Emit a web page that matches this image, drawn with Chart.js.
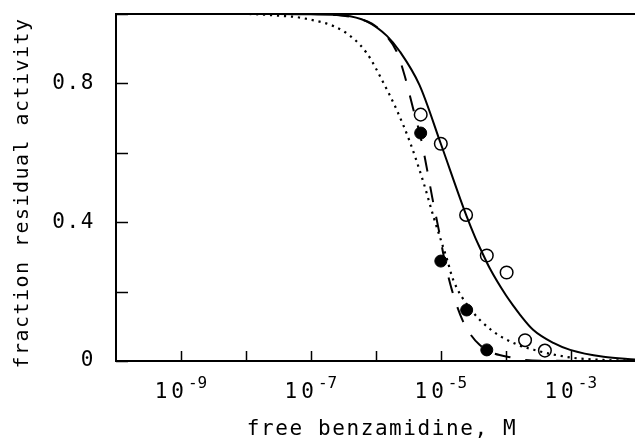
<!DOCTYPE html>
<html>
<head>
<meta charset="utf-8">
<script src="https://cdn.jsdelivr.net/npm/chart.js@4.4.1/dist/chart.umd.min.js"></script>
<style>
  html, body { margin: 0; padding: 0; background: #fff; }
</style>
</head>
<body>
<canvas id="chart" width="635" height="444"></canvas>
<script>
// Data
const openX = [4.9e-6, 1.0e-5, 2.45e-5, 5.1e-5, 1.03e-4, 1.98e-4, 4.0e-4];
const openY = [0.71, 0.626, 0.421, 0.304, 0.255, 0.06, 0.03];

const filledX = [4.9e-6, 1.0e-5, 2.5e-5, 5.1e-5];
const filledY = [0.657, 0.288, 0.147, 0.032];

// solid fit
const solidX = [1e-10, 3.2e-8, 1e-7, 3.2e-7, 7.2e-7, 1.48e-6, 2.34e-6, 4.7e-6, 1e-5, 2.45e-5,
                3.4e-5, 4.1e-5, 5.75e-5, 1.0e-4, 1.32e-4, 1.66e-4, 2.63e-4, 5.4e-4, 9.8e-4, 3.2e-3, 1e-2];
const solidY = [1, 1, 0.999, 0.996, 0.979, 0.937, 0.892, 0.795, 0.626, 0.421,
                0.355, 0.322, 0.265, 0.19, 0.158, 0.133, 0.09, 0.052, 0.032, 0.012, 0.004];

// dotted fit
const dottedX = [1e-10, 1e-8, 3.2e-8, 7.6e-8, 3.2e-7, 7.2e-7, 1.32e-6, 2.09e-6, 3.39e-6, 5.4e-6,
                 7.8e-6, 1.26e-5, 1.55e-5, 2.8e-5, 6.0e-5, 1.48e-4, 3.0e-4, 6.0e-4, 1.23e-3, 3.2e-3, 1e-2];
const dottedY = [1, 1, 0.995, 0.988, 0.95, 0.888, 0.80, 0.724, 0.628, 0.515,
                 0.413, 0.29, 0.234, 0.152, 0.089, 0.048, 0.03, 0.017, 0.008, 0.003, 0.001];

// dashed fit
const dashedX = [1e-10, 1e-7, 2.5e-7, 5.1e-7, 8.7e-7, 1.48e-6, 2.09e-6, 2.75e-6, 3.72e-6, 5.0e-6,
                 6.17e-6, 7.4e-6, 9.3e-6, 1.15e-5, 1.48e-5, 2.19e-5, 3.98e-5, 1.29e-4, 3.39e-4, 1e-2];
const dashedY = [1, 1, 0.997, 0.988, 0.972, 0.935, 0.892, 0.825, 0.73, 0.637,
                 0.55, 0.47, 0.378, 0.288, 0.205, 0.115, 0.046, 0.009, 0.001, 0];

// axes
const xTickValues = [1e-9, 1e-8, 1e-7, 1e-6, 1e-5, 1e-4, 1e-3];
const xLabelValues = [1e-9, 1e-7, 1e-5, 1e-3];
const xLabelExps = ['-9', '-7', '-5', '-3'];
const yTickValues = [0, 0.2, 0.4, 0.6, 0.8, 1.0];
const yTickLabels = ['0', '', '0.4', '', '0.8', ''];
const xTitle = 'free benzamidine, M';
const yTitle = 'fraction residual activity';

const FONT = '"DejaVu Sans Mono", monospace';

const pts = (xs, ys) => xs.map((x, i) => ({ x: x, y: ys[i] }));

function noPadding(scale) {
    scale.paddingTop = 0;
    scale.paddingBottom = 0;
    scale.paddingLeft = 0;
    scale.paddingRight = 0;
}

// frame, inward ticks, x labels with exponents, axis titles
const decorations = {
    id: 'decorations',
    beforeDraw(chart) {
        chart.ctx.letterSpacing = '1.6px';
    },
    afterDraw(chart) {
        const { ctx, chartArea: a, scales: { x, y } } = chart;
        ctx.save();
        ctx.strokeStyle = '#000';
        ctx.fillStyle = '#000';

        ctx.lineWidth = 2;
        ctx.beginPath();
        ctx.moveTo(a.left - 1, a.top);
        ctx.lineTo(a.right, a.top);
        ctx.stroke();

        ctx.lineWidth = 1.5;
        ctx.beginPath();
        xTickValues.forEach(v => {
            const px = Math.round(x.getPixelForValue(v)) + 0.5;
            ctx.moveTo(px, a.bottom);
            ctx.lineTo(px, a.bottom - 10);
        });
        yTickValues.forEach(v => {
            const py = Math.round(y.getPixelForValue(v)) + 0.5;
            ctx.moveTo(a.left, py);
            ctx.lineTo(a.left + 12, py);
        });
        ctx.stroke();

        // x tick labels: 10 with superscript exponent
        ctx.textBaseline = 'alphabetic';
        ctx.textAlign = 'left';
        xLabelValues.forEach((v, i) => {
            const px = x.getPixelForValue(v);
            ctx.font = '21px ' + FONT;
            ctx.letterSpacing = '4px';
            const w1 = ctx.measureText('10').width;
            ctx.font = '16px ' + FONT;
            ctx.letterSpacing = '0px';
            const w2 = ctx.measureText(xLabelExps[i]).width;
            const x0 = px - (w1 + w2) / 2;
            ctx.font = '21px ' + FONT;
            ctx.letterSpacing = '4px';
            ctx.fillText('10', x0, 398);
            ctx.font = '16px ' + FONT;
            ctx.letterSpacing = '0px';
            ctx.fillText(xLabelExps[i], x0 + w1, 388);
        });

        // axis titles
        ctx.textAlign = 'center';
        ctx.font = '21px ' + FONT;
        ctx.letterSpacing = '1.6px';
        ctx.fillText(xTitle, 382, 435);

        ctx.translate(28, 193);
        ctx.rotate(-Math.PI / 2);
        ctx.font = '20px ' + FONT;
        ctx.letterSpacing = '1.45px';
        ctx.fillText(yTitle, 0, 0);
        ctx.restore();
    }
};

const ctx = document.getElementById('chart').getContext('2d');
const chart = new Chart(ctx, {
    type: 'scatter',
    data: {
        datasets: [
            {
                label: 'open',
                data: pts(openX, openY),
                pointRadius: 6.3,
                pointBorderWidth: 1.5,
                pointBorderColor: '#000',
                pointBackgroundColor: 'rgba(0,0,0,0)',
                showLine: false
            },
            {
                label: 'filled',
                data: pts(filledX, filledY),
                pointRadius: 6,
                pointBorderWidth: 1,
                pointBorderColor: '#000',
                pointBackgroundColor: '#000',
                showLine: false
            },
            {
                label: 'solid',
                data: pts(solidX, solidY),
                showLine: true,
                borderColor: '#000',
                borderWidth: 2,
                pointRadius: 0,
                cubicInterpolationMode: 'monotone'
            },
            {
                label: 'dotted',
                data: pts(dottedX, dottedY),
                showLine: true,
                borderColor: '#000',
                borderWidth: 2.2,
                borderDash: [2.2, 4.8],
                pointRadius: 0,
                cubicInterpolationMode: 'monotone'
            },
            {
                label: 'dashed',
                data: pts(dashedX, dashedY),
                showLine: true,
                borderColor: '#000',
                borderWidth: 2,
                borderDash: [16, 15],
                pointRadius: 0,
                cubicInterpolationMode: 'monotone'
            }
        ]
    },
    options: {
        responsive: false,
        animation: false,
        layout: { autoPadding: false, padding: { left: 0, top: 14, right: 0, bottom: 0 } },
        plugins: {
            legend: { display: false },
            tooltip: { enabled: false }
        },
        scales: {
            x: {
                type: 'logarithmic',
                position: 'bottom',
                min: 1e-10,
                max: 9.75e-3,
                grid: { display: false, drawTicks: false },
                border: { display: true, color: '#000', width: 2 },
                ticks: { display: false },
                afterBuildTicks: (scale) => { scale.ticks = xTickValues.map(v => ({ value: v })); },
                afterFit: (scale) => { scale.height = 83; noPadding(scale); }
            },
            y: {
                type: 'linear',
                position: 'left',
                min: 0,
                max: 1,
                grid: { display: false, drawTicks: false },
                border: { display: true, color: '#000', width: 2 },
                ticks: {
                    color: '#000',
                    padding: 21,
                    font: { family: FONT, size: 21 },
                    callback: (value, index) => yTickLabels[index]
                },
                afterBuildTicks: (scale) => { scale.ticks = yTickValues.map(v => ({ value: v })); },
                afterFit: (scale) => { scale.width = 116; noPadding(scale); }
            }
        }
    },
    plugins: [decorations]
});
</script>
</body>
</html>
